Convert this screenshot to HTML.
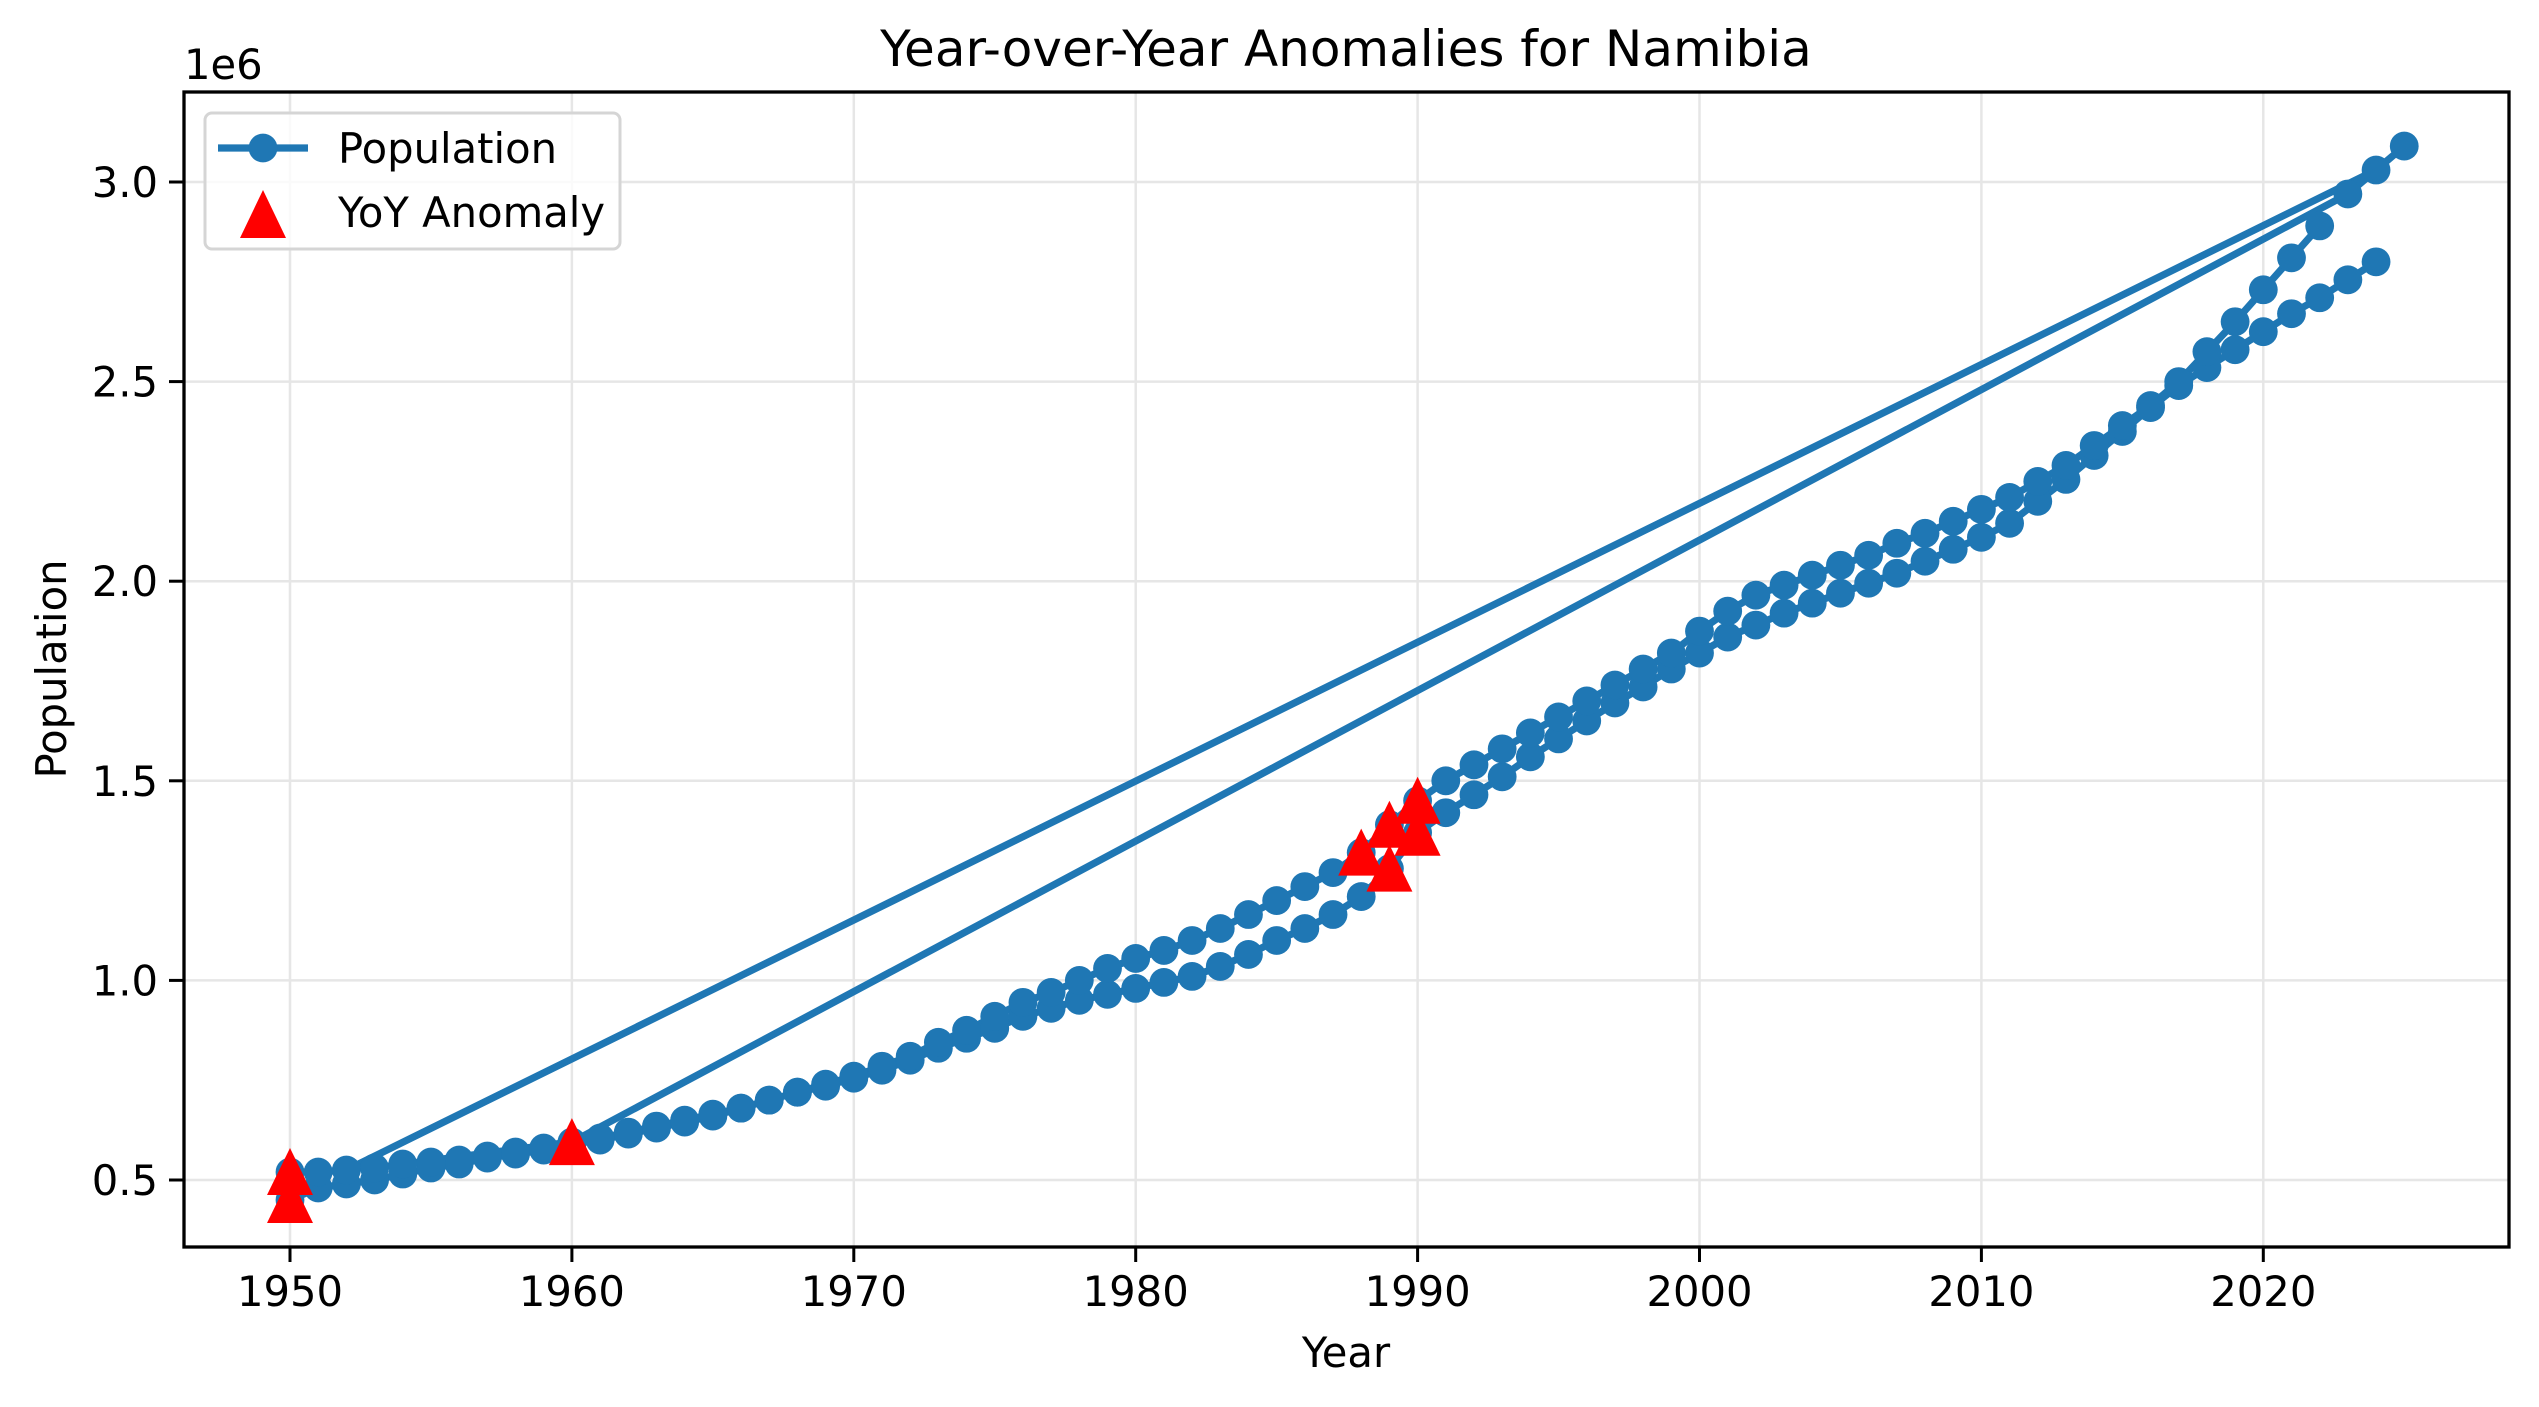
<!DOCTYPE html>
<html><head><meta charset="utf-8"><style>
html,body{margin:0;padding:0;background:#fff;}
svg{display:block;font-family:"DejaVu Sans","Liberation Sans",sans-serif;}
</style></head><body>
<svg id="chart" width="2539" height="1407" viewBox="0 0 2539 1407" xmlns="http://www.w3.org/2000/svg">
<rect width="2539" height="1407" fill="#fff"/>
<g id="grid"></g>
<g id="series"></g>
<g id="anoms"></g>
<rect x="184" y="92" width="2325" height="1155" fill="none" stroke="#000" stroke-width="3.3"/>
<g id="ticks"></g>
<text x="1346" y="66" font-size="50" text-anchor="middle">Year-over-Year Anomalies for Namibia</text>
<text x="1346" y="1367" font-size="41.7" text-anchor="middle">Year</text>
<text transform="translate(66,669) rotate(-90)" font-size="41.7" text-anchor="middle">Population</text>
<text x="184" y="79" font-size="41.7">1e6</text>
<g>
<rect x="205" y="113" width="415" height="136" rx="7" fill="#fff" fill-opacity="0.8" stroke="#d5d5d5" stroke-width="3"/>
<line x1="218" y1="148" x2="308" y2="148" stroke="#1f77b4" stroke-width="7.2"/>
<circle cx="263" cy="148" r="14.4" fill="#1f77b4"/>
<text x="338" y="163" font-size="41.7">Population</text>
<polygon points="263,190 286,238 240,238" fill="#ff0000"/>
<text x="338" y="227" font-size="41.7">YoY Anomaly</text>
</g>
</svg>
<script>
const seriesAVals=[0.52,0.52,0.525,0.53,0.54,0.545,0.55,0.56,0.57,0.58,0.595,0.605,0.62,0.635,0.65,0.665,0.68,0.70,0.72,0.74,0.76,0.785,0.81,0.845,0.875,0.91,0.945,0.97,1.00,1.03,1.055,1.075,1.10,1.13,1.165,1.20,1.235,1.27,1.32,1.39,1.45,1.50,1.54,1.58,1.62,1.66,1.70,1.74,1.78,1.82,1.875,1.925,1.965,1.99,2.015,2.04,2.065,2.095,2.12,2.15,2.18,2.21,2.25,2.29,2.34,2.39,2.44,2.50,2.575,2.65,2.73,2.81,2.89,2.97,3.03,3.09];
const seriesBVals=[0.45,0.48,0.49,0.50,0.515,0.53,0.54,0.555,0.565,0.575,0.59,0.60,0.615,0.63,0.645,0.66,0.68,0.70,0.72,0.735,0.755,0.775,0.80,0.83,0.855,0.88,0.91,0.93,0.95,0.965,0.98,0.995,1.01,1.035,1.065,1.10,1.13,1.165,1.21,1.28,1.37,1.42,1.465,1.51,1.56,1.605,1.65,1.695,1.735,1.78,1.82,1.86,1.89,1.92,1.945,1.97,1.995,2.02,2.05,2.08,2.11,2.145,2.20,2.255,2.315,2.375,2.435,2.49,2.535,2.58,2.625,2.67,2.71,2.755,2.80];
const anomalyYears=[1950,1950,1960,1988,1989,1989,1990,1990];
const anomalyVals=[0.52,0.45,0.595,1.32,1.39,1.28,1.45,1.37];
const xTicks=[1950,1960,1970,1980,1990,2000,2010,2020];
const yTicks=[0.5,1.0,1.5,2.0,2.5,3.0];
const yTickLabels=["0.5","1.0","1.5","2.0","2.5","3.0"];
const startYear=1950;

const NS="http://www.w3.org/2000/svg";
const X=y=>290+(y-1950)*28.19;
const Y=v=>1379.6-v*399.2;
function mk(tag,attrs,parent){const e=document.createElementNS(NS,tag);for(const k in attrs)e.setAttribute(k,attrs[k]);parent.appendChild(e);return e;}

const grid=document.getElementById('grid'),ticks=document.getElementById('ticks');
xTicks.forEach(t=>{
  const g=mk('line',{x1:X(t),x2:X(t),y1:92,y2:1247,stroke:'#e6e6e6','stroke-width':2.5},grid);
  
  
  mk('line',{x1:X(t),x2:X(t),y1:1247,y2:1262,stroke:'#000','stroke-width':3},ticks);
  const tx=mk('text',{x:X(t),y:1306,'font-size':41.7,'text-anchor':'middle'},ticks);
  tx.textContent=t;
  
  
});
yTicks.forEach((t,i)=>{
  const g=mk('line',{x1:184,x2:2509,y1:Y(t),y2:Y(t),stroke:'#e6e6e6','stroke-width':2.5},grid);
  
  
  mk('line',{x1:169,x2:184,y1:Y(t),y2:Y(t),stroke:'#000','stroke-width':3},ticks);
  const tx=mk('text',{x:158,y:Y(t)+15,'font-size':41.7,'text-anchor':'end'},ticks);
  tx.textContent=yTickLabels[i];
  
  
});

const seq=[];
const A=y=>[y,seriesAVals[y-startYear]], B=y=>[y,seriesBVals[y-startYear]];
for(let y=startYear+seriesBVals.length-1;y>=startYear;y--)seq.push(B(y));
[1950,1951,1952].forEach(y=>seq.push(A(y)));
const lastA=startYear+seriesAVals.length-1;
seq.push(A(lastA-1));seq.push(A(lastA));seq.push(A(lastA-2));
for(let y=1960;y>=1953;y--)seq.push(A(y));
for(let y=1961;y<=lastA-3;y++)seq.push(A(y));

const sg=document.getElementById('series');
const line=mk('polyline',{points:seq.map(p=>X(p[0])+','+Y(p[1])).join(' '),fill:'none',stroke:'#1f77b4','stroke-width':7.2,'stroke-linejoin':'round','stroke-linecap':'square'},sg);


seq.forEach(p=>{
  const c=mk('circle',{cx:X(p[0]),cy:Y(p[1]),r:14.4,fill:'#1f77b4'},sg);
  
  
});
const ag=document.getElementById('anoms');
anomalyYears.forEach((yr,i)=>{
  const cx=X(yr),cy=Y(anomalyVals[i]);
  const t=mk('polygon',{points:`${cx},${cy-24} ${cx+23},${cy+23} ${cx-23},${cy+23}`,fill:'#ff0000'},ag);
  
  
});
</script>
</body></html>
